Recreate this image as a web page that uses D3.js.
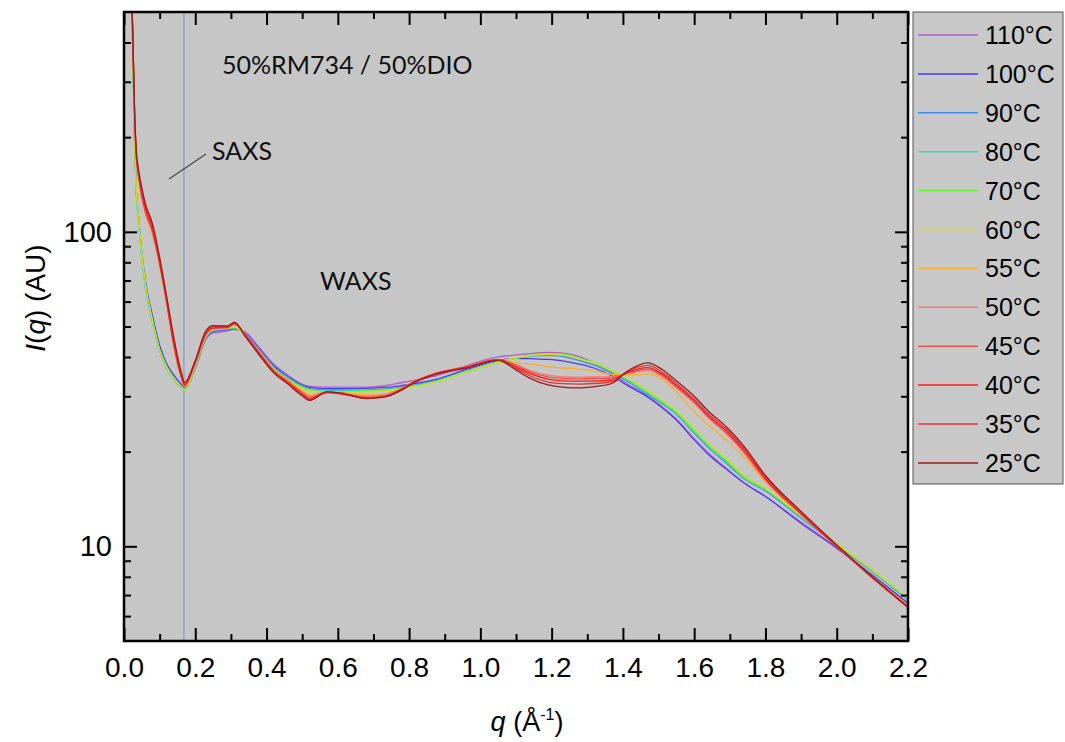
<!DOCTYPE html>
<html>
<head>
<meta charset="utf-8">
<title>SAXS / WAXS</title>
<script src="https://cdn.jsdelivr.net/npm/d3@7"></script>
<style>
  body { margin: 0; background: #fff; }
  svg { display: block; }
  .tick text { font-family: "Liberation Sans", Arial, sans-serif; }
  .note { font-family: Lato, "Open Sans", sans-serif; font-size: 25px; fill: #111; }
</style>
</head>
<body>
<svg id="chart" width="1065" height="742"></svg>
<script>
// q values (1/A) shared by all series
var q = [0.02, 0.03, 0.035, 0.04, 0.05, 0.06, 0.08, 0.10, 0.12, 0.14, 0.16, 0.17, 0.20, 0.23, 0.25, 0.29, 0.31, 0.34, 0.38, 0.42,
         0.46, 0.50, 0.52, 0.57, 0.61, 0.68, 0.73, 0.77, 0.82, 0.87, 0.96, 1.05, 1.10, 1.14, 1.19, 1.23, 1.28, 1.33, 1.37, 1.41,
         1.47, 1.51, 1.55, 1.60, 1.64, 1.69, 1.74, 1.80, 1.90, 2.00, 2.10, 2.20];

// intensities, one array per temperature
var I110 = [700,195,132,112,84,68,52,42,37,34,32.1,31.5,36.8,45.5,47.6,48.4,49.0,48,42.8,38,
            35,32.8,32.3,32.1,32.1,32.1,32.4,33.0,33.8,34.7,37.5,40.0,40.6,41.0,41.4,41.2,40.0,37.6,35.4,33.0,
            30.0,27.8,25.4,22.0,19.8,17.7,15.9,14.4,11.8,9.85,8.05,6.55];
var I100 = [700,195,133,114,86,70,54,43.5,38,35,32.8,31.8,37.4,46,48.2,48.8,49.2,47.5,42.3,37.5,
            34.6,32.5,32.0,31.7,31.7,31.8,32.0,32.3,33.0,33.8,36.5,39.0,39.6,39.5,39.3,38.9,37.9,36.5,34.8,32.6,
            29.8,27.6,25.2,21.8,19.6,17.6,15.9,14.4,11.9,9.9,8.1,6.6];
var I90  = [700,190,131,111,83,67,51.8,42,37.2,34.2,32.3,31.6,37.2,46,48.4,49,49.4,47.3,42,37.2,
            34.4,32.3,31.7,31.3,31.3,31.4,31.6,31.9,32.6,33.5,36.1,38.7,39.7,40.2,40.5,40.2,38.9,37.3,35.5,33.6,
            30.3,28.4,26.3,22.9,20.6,18.4,16.4,15.0,12.3,10.1,8.3,6.75];
var I80  = [700,188,130,110,83,67,51.5,41.8,36.8,33.8,32.0,31.4,37.3,46.2,48.6,49.2,49.5,47.2,41.8,37.0,
            34.2,32.2,31.6,31.2,31.2,31.3,31.5,31.8,32.5,33.4,36.0,38.6,39.7,40.4,40.8,40.6,39.3,37.7,35.9,33.9,
            30.6,28.6,26.5,23.1,20.8,18.6,16.5,15.1,12.4,10.2,8.35,6.8];
var I70  = [700,185,132,112,84,68,52,42,37,34,32.2,31.6,37.5,46.5,48.8,49.3,49.6,47,41.5,36.8,
            34,32,31.4,31.0,31.0,31.2,31.4,31.7,32.4,33.2,35.8,38.4,39.6,40.3,40.8,40.8,39.5,38.0,36.3,34.3,
            31.0,28.9,26.8,23.4,21.0,18.8,16.6,15.2,12.5,10.2,8.4,6.85];
var I60  = [700,190,133,113,85,68.5,52.5,42.3,37.2,34.1,32.2,31.5,37.6,46.6,48.9,49.4,49.8,46.8,41.3,36.6,
            33.8,31.8,31.2,30.9,30.9,31.0,31.2,31.6,32.3,33.2,35.9,38.5,39.8,40.4,40.8,40.6,39.4,37.9,36.2,34.4,
            31.2,29.1,27.0,23.6,21.2,19.0,16.8,15.3,12.5,10.2,8.4,6.85];
var I55  = [700,225,167,150,127,114,98,78,58.5,43,34.5,32.3,38,46.8,49,49.4,50.5,47.2,41.5,36.5,
            33.7,31.2,30.3,31.1,30.9,30.3,30.5,31.5,33.7,35.3,37.3,39.1,38.3,38.0,37.3,36.9,36.6,35.9,35.2,35.1,
            35.3,34.0,31.0,26.8,24.3,21.8,19.2,16.0,12.6,10.0,8.0,6.5];
var I50  = [700,226,168,151,128,115,99,78.5,59,43,34.6,32.3,38.2,47,49.1,49.5,50.8,47.3,41.4,36.4,
            33.6,31.0,30.0,31.0,30.7,30.0,30.3,31.4,33.7,35.4,37.3,39.2,37.8,36.2,35.0,34.6,34.5,34.6,34.6,35.4,
            36.2,34.7,31.9,28.5,25.6,22.8,19.8,16.2,12.6,10.0,7.95,6.45];
var I45  = [700,228,170,153,130,116,100,79,59.5,43.5,34.8,32.4,38.3,47.2,49.3,49.6,51.0,47.2,41.2,36.2,
            33.4,30.8,29.7,30.9,30.6,29.8,30.1,31.3,33.6,35.3,37.2,39.2,37.6,35.8,34.6,34.2,34.1,34.2,34.3,35.5,
            36.6,35.0,32.2,28.8,25.8,23.0,20.0,16.3,12.7,10.0,7.95,6.45];
var I40  = [700,230,172,155,132,118,102,80,60,44,35,32.6,38.5,47.5,49.5,49.8,51.3,47,41,36,
            33.2,30.5,29.4,30.8,30.5,29.6,29.9,31.2,33.6,35.3,37.1,39.2,37.2,35.4,34.0,33.6,33.5,33.6,33.8,35.6,
            37.0,35.3,32.5,29.0,26.0,23.3,20.2,16.4,12.7,10.0,7.95,6.4];
var I35  = [700,232,175,157,134,120,104,81,61,45,35.5,33,38.8,48,50,50,51.5,46.8,40.8,35.8,
            33,30.3,29.3,30.9,30.6,29.7,29.9,31.1,33.5,35.2,37.0,39.1,36.8,34.8,33.3,32.9,32.8,33.0,33.4,35.8,
            37.6,35.8,33.0,29.4,26.4,23.6,20.5,16.6,12.8,10.0,7.95,6.4];
var I25  = [700,235,178,160,138,123,106,83,62,46,36,33.2,39,48.5,50.3,50.2,51.5,46.5,40.5,35.6,
            32.8,30.1,29.1,31.0,30.7,29.5,29.8,31.0,33.4,35.1,36.9,39.0,36.4,34.2,32.6,32.1,31.9,32.3,33.0,35.9,
            38.3,36.5,33.6,30.0,26.9,24.0,20.8,16.8,12.9,10.1,8.0,6.4];

var labels = ["110°C", "100°C", "90°C", "80°C", "70°C", "60°C", "55°C", "50°C", "45°C", "40°C", "35°C", "25°C"];
var series = [I110, I100, I90, I80, I70, I60, I55, I50, I45, I40, I35, I25];
var colors = ["#b060c8", "#4b3cf0", "#3c8ff0", "#30e0b0", "#66ee30", "#d2e01a",
              "#f4b030", "#f47a6a", "#f05050", "#ff1a1a", "#e03838", "#9a1c1c"];
var xTicks = [0, 0.2, 0.4, 0.6, 0.8, 1.0, 1.2, 1.4, 1.6, 1.8, 2.0, 2.2];
var yTicks = [10, 100];
var qSplit = 0.168;   // SAXS / WAXS boundary

var svg = d3.select("#chart");
var L = 124, R = 908, T = 12, B = 641;

var x = d3.scaleLinear().domain([0, 2.2]).range([L, R]);
var y = d3.scaleLog().domain([5, 500]).range([B, T]);

svg.append("defs").append("clipPath").attr("id", "clip")
  .append("rect").attr("x", L).attr("y", T).attr("width", R - L).attr("height", B - T);

svg.append("rect").attr("x", L).attr("y", T).attr("width", R - L).attr("height", B - T)
  .attr("fill", "#c6c6c6");

// boundary line
svg.append("line")
  .attr("x1", x(qSplit)).attr("x2", x(qSplit)).attr("y1", T).attr("y2", B)
  .attr("stroke", "#8fa2c8").attr("stroke-width", 1.5);

var line = d3.line()
  .x(function (d, i) { return x(q[i]); })
  .y(function (d) { return y(d); })
  .curve(d3.curveMonotoneX);

var g = svg.append("g").attr("clip-path", "url(#clip)");
series.forEach(function (s, k) {
  g.append("path").datum(s)
    .attr("d", line)
    .attr("fill", "none")
    .attr("stroke", colors[k])
    .attr("stroke-width", 1.3);
});

// axes, ticks pointing in
var minorX = d3.range(0.1, 2.2, 0.2);
var minorY = [6, 7, 8, 9, 20, 30, 40, 50, 60, 70, 80, 90, 200, 300, 400];

svg.append("g").attr("transform", "translate(0," + B + ")")
  .call(d3.axisBottom(x).tickValues(xTicks).tickSize(-13).tickPadding(16).tickFormat(d3.format(".1f")))
  .call(function (a) { a.selectAll("text").attr("font-size", 28).attr("fill", "#000"); });
svg.append("g").attr("transform", "translate(0," + B + ")")
  .call(d3.axisBottom(x).tickValues(minorX).tickSize(-7).tickFormat(""));
svg.append("g").attr("transform", "translate(0," + T + ")")
  .call(d3.axisTop(x).tickValues(xTicks).tickSize(-13).tickFormat(""));
svg.append("g").attr("transform", "translate(0," + T + ")")
  .call(d3.axisTop(x).tickValues(minorX).tickSize(-7).tickFormat(""));

svg.append("g").attr("transform", "translate(" + L + ",0)")
  .call(d3.axisLeft(y).tickValues(yTicks).tickSize(-13).tickPadding(12).tickFormat(d3.format("d")))
  .call(function (a) { a.selectAll("text").attr("font-size", 29).attr("fill", "#000"); });
svg.append("g").attr("transform", "translate(" + L + ",0)")
  .call(d3.axisLeft(y).tickValues(minorY).tickSize(-7).tickFormat(""));
svg.append("g").attr("transform", "translate(" + R + ",0)")
  .call(d3.axisRight(y).tickValues(yTicks).tickSize(-13).tickFormat(""));
svg.append("g").attr("transform", "translate(" + R + ",0)")
  .call(d3.axisRight(y).tickValues(minorY).tickSize(-7).tickFormat(""));

svg.selectAll(".domain").remove();
svg.selectAll(".tick line").attr("stroke", "#000").attr("stroke-width", 2);

svg.append("rect").attr("x", L).attr("y", T).attr("width", R - L).attr("height", B - T)
  .attr("fill", "none").attr("stroke", "#000").attr("stroke-width", 2.5);

// axis titles
var xt = svg.append("text").attr("x", 527).attr("y", 731).attr("text-anchor", "middle")
  .attr("font-family", "Liberation Sans, Arial, sans-serif").attr("font-size", 27);
xt.append("tspan").attr("font-style", "italic").text("q");
xt.append("tspan").text(" (Å");
xt.append("tspan").attr("font-size", 16).attr("dy", -11).text("-1");
xt.append("tspan").attr("dy", 11).text(")");

var yt = svg.append("text").attr("transform", "translate(45,298) rotate(-90)").attr("text-anchor", "middle")
  .attr("font-family", "Liberation Sans, Arial, sans-serif").attr("font-size", 28);
yt.append("tspan").attr("font-style", "italic").text("I");
yt.append("tspan").text("(");
yt.append("tspan").attr("font-style", "italic").text("q");
yt.append("tspan").text(") (AU)");

// notes
svg.append("text").attr("class", "note").attr("x", 222).attr("y", 74).text("50%RM734 / 50%DIO");
svg.append("text").attr("class", "note").attr("x", 212).attr("y", 160).text("SAXS");
svg.append("text").attr("class", "note").attr("x", 320).attr("y", 290).text("WAXS");
svg.append("line").attr("x1", 169).attr("y1", 179).attr("x2", 206).attr("y2", 154)
  .attr("stroke", "#444").attr("stroke-width", 1.2);

// legend
var lg = svg.append("g");
lg.append("rect").attr("x", 913).attr("y", 12).attr("width", 150).attr("height", 472)
  .attr("fill", "#c8c8c8").attr("stroke", "#555").attr("stroke-width", 1);
labels.forEach(function (t, k) {
  var ly = 35 + k * 38.9;
  lg.append("line").attr("x1", 918).attr("x2", 978).attr("y1", ly).attr("y2", ly)
    .attr("stroke", colors[k]).attr("stroke-width", 1.5);
  lg.append("text").attr("x", 985).attr("y", ly + 9)
    .attr("font-family", "Liberation Sans, Arial, sans-serif").attr("font-size", 25)
    .text(t);
});
</script>
</body>
</html>
